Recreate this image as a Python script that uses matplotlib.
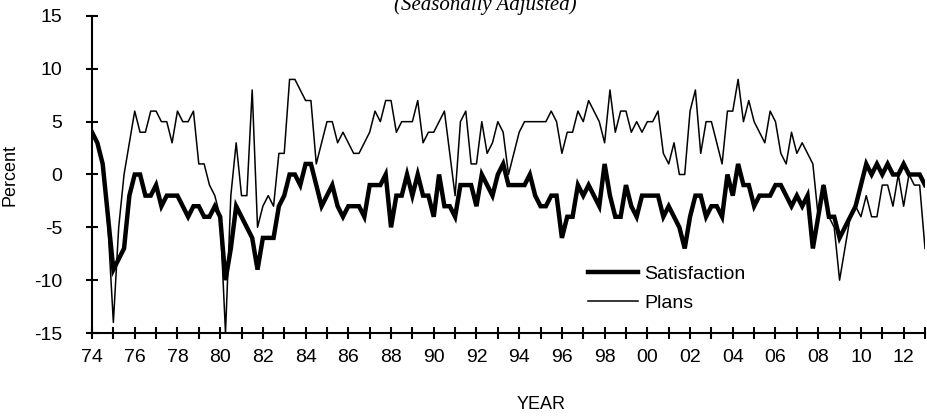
import numpy as np
import matplotlib
matplotlib.use("Agg")
import matplotlib.pyplot as plt

plt.rcParams['font.family'] = ['Liberation Sans', 'DejaVu Sans']
plt.rcParams['axes.unicode_minus'] = False

# quarterly readings, 1974Q1 .. 2013Q1
satisfaction = [
    4, 3, 1, -4, -9, -8, -7, -2, 0, 0,
    -2, -2, -1, -3, -2, -2, -2, -3, -4, -3,
    -3, -4, -4, -3, -4, -10, -7, -3, -4, -5,
    -6, -9, -6, -6, -6, -3, -2, 0, 0, -1,
    1, 1, -1, -3, -2, -1, -3, -4, -3, -3,
    -3, -4, -1, -1, -1, 0, -5, -2, -2, 0,
    -2, 0, -2, -2, -4, 0, -3, -3, -4, -1,
    -1, -1, -3, 0, -1, -2, 0, 1, -1, -1,
    -1, -1, 0, -2, -3, -3, -2, -2, -6, -4,
    -4, -1, -2, -1, -2, -3, 1, -2, -4, -4,
    -1, -3, -4, -2, -2, -2, -2, -4, -3, -4,
    -5, -7, -4, -2, -2, -4, -3, -3, -4, 0,
    -2, 1, -1, -1, -3, -2, -2, -2, -1, -1,
    -2, -3, -2, -3, -2, -7, -4, -1, -4, -4,
    -6, -5, -4, -3, -1, 1, 0, 1, 0, 1,
    0, 0, 1, 0, 0, 0, -1,
]
plans = [
    4, 3, 1, -5, -14, -5, 0, 3, 6, 4,
    4, 6, 6, 5, 5, 3, 6, 5, 5, 6,
    1, 1, -1, -2, -4, -15, -2, 3, -2, -2,
    8, -5, -3, -2, -3, 2, 2, 9, 9, 8,
    7, 7, 1, 3, 5, 5, 3, 4, 3, 2,
    2, 3, 4, 6, 5, 7, 7, 4, 5, 5,
    5, 7, 3, 4, 4, 5, 6, 2, -2, 5,
    6, 1, 1, 5, 2, 3, 5, 4, 0, 2,
    4, 5, 5, 5, 5, 5, 6, 5, 2, 4,
    4, 6, 5, 7, 6, 5, 3, 8, 4, 6,
    6, 4, 5, 4, 5, 5, 6, 2, 1, 3,
    0, 0, 6, 8, 2, 5, 5, 3, 1, 6,
    6, 9, 5, 7, 5, 4, 3, 6, 5, 2,
    1, 4, 2, 3, 2, 1, -4, -1, -4, -5,
    -10, -7, -4, -3, -4, -2, -4, -4, -1, -1,
    -3, 0, -3, 0, -1, -1, -7,
]
start_year = 1974
end_year = 2013

t = start_year + np.arange(len(satisfaction)) / 4.0

fig = plt.figure(figsize=(9.27, 4.19), dpi=100)
ax = fig.add_axes([92 / 927, 86 / 419, 833 / 927, 317 / 419])

ax.plot(t, satisfaction, color='black', lw=3.2, label='Satisfaction', solid_joinstyle='miter')
ax.plot(t, plans, color='black', lw=1.1, label='Plans')

ax.set_xlim(start_year, end_year)
ax.set_ylim(-15, 15)

years = np.arange(start_year, end_year + 1)
ax.set_xticks(years)
ax.set_xticklabels(['%02d' % (y % 100) if (y - start_year) % 2 == 0 else '' for y in years])
ax.set_yticks(np.arange(-15, 16, 5))

ax.spines['top'].set_visible(False)
ax.spines['right'].set_visible(False)
ax.spines['left'].set_linewidth(1.5)
ax.spines['bottom'].set_linewidth(1.5)
ax.tick_params(axis='x', direction='inout', length=9, width=1.5, pad=7, labelsize=14)
ax.tick_params(axis='y', direction='inout', length=9, width=1.5, pad=17, labelsize=14)

leg = ax.legend(loc='center left', bbox_to_anchor=(0.595, 0.14), frameon=False,
                fontsize=14, handlelength=2.6, handletextpad=0.3,
                borderaxespad=0, borderpad=0, labelspacing=0.6)

fig.text(10 / 927, 1 - 175 / 419, 'Percent', rotation=90, ha='center', va='center', fontsize=13)
fig.text(541 / 927, 1 - 404 / 419, 'YEAR', ha='center', va='center', fontsize=13)
fig.text(485 / 927, 1 - 10 / 419, '(Seasonally Adjusted)', ha='center', va='baseline',
         fontsize=15, family=['Liberation Serif', 'DejaVu Serif'], style='italic')

fig.savefig('out.png', dpi=100)
